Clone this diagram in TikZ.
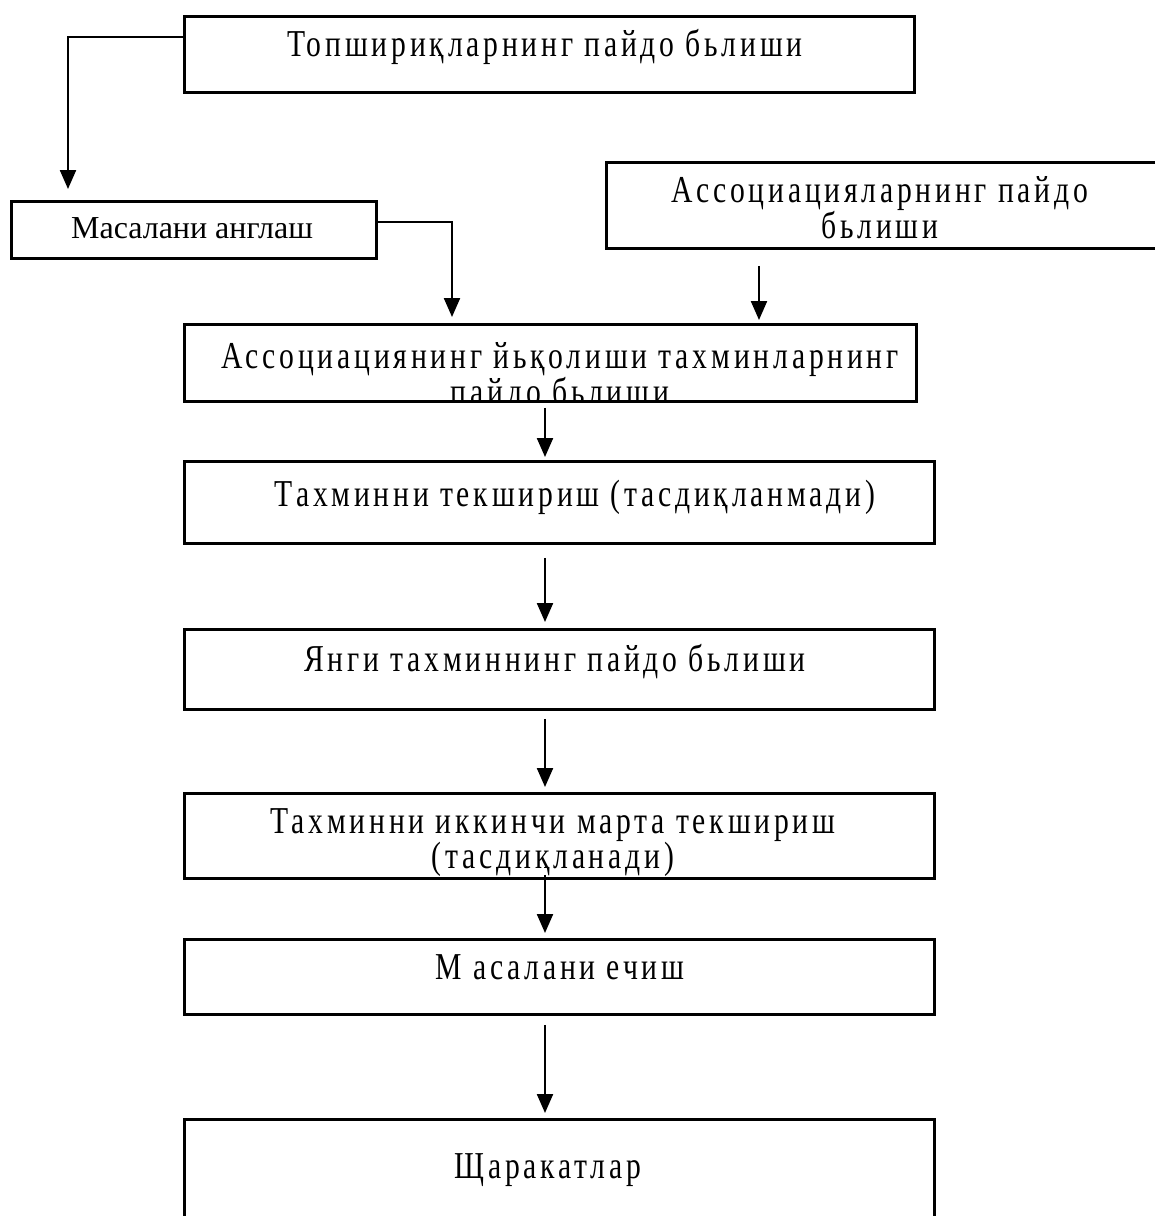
\documentclass[tikz,border=0pt]{standalone}
\usepackage{fontspec}
\setmainfont{Liberation Serif}
\newfontfamily\narrowfont[FakeStretch=0.78,LetterSpace=10]{Liberation Serif}
\usetikzlibrary{arrows.meta}
\begin{document}
\begin{tikzpicture}[x=1pt,y=-1pt,
  box/.style={draw,line width=2.8pt,rectangle,inner sep=0pt,anchor=north west},
  lbl/.style={font=\narrowfont\fontsize{38}{35}\selectfont,align=center,inner sep=0pt},
  arr/.style={line width=2.2pt,-{Triangle[length=19pt,width=16pt]}}]
\useasboundingbox (0,0) rectangle (1155,1216);
\clip (0,0) rectangle (1155,1216);
% boxes
\node[box,minimum width=730pt,minimum height=76pt] (b1) at (183,15) {};
\node[box,minimum width=365pt,minimum height=57pt] (b2) at (10,200) {};
\node[box,minimum width=575pt,minimum height=86pt] (b3) at (605,161) {};
\node[box,minimum width=732pt,minimum height=77pt] (b4) at (183,323) {};
\node[box,minimum width=750pt,minimum height=82pt] (b5) at (183,460) {};
\node[box,minimum width=750pt,minimum height=80pt] (b6) at (183,628) {};
\node[box,minimum width=750pt,minimum height=85pt] (b7) at (183,792) {};
\node[box,minimum width=750pt,minimum height=75pt] (b8) at (183,938) {};
\node[box,minimum width=750pt,minimum height=122pt] (b9) at (183,1118) {};
% labels
\node[lbl] (t1) at (545,47) {Топшириқларнинг пайдо бьлиши};
\node[font=\fontsize{32}{36}\selectfont,inner sep=0pt] (t2) at (192,228) {Масалани англаш};
\node[lbl] (t3) at (880,208) {Ассоциацияларнинг пайдо\\бьлиши};
\begin{scope}
\clip (184,324) rectangle (914,399);
\node[lbl] (t4) at (560,377) {Ассоциациянинг йьқолиши тахминларнинг\\пайдо бьлиши};
\end{scope}
\node[lbl] (t5) at (575,497) {Тахминни текшириш (тасдиқланмади)};
\node[lbl] (t6) at (555,662) {Янги тахминнинг пайдо бьлиши};
\node[lbl] (t7) at (553,843) {Тахминни иккинчи марта текшириш\\(тасдиқланади)};
\node[lbl] (t8) at (560,967) {М асалани ечиш};
\node[lbl] (t9) at (548,1170) {Щаракатлар};
% connectors
\coordinate (k1) at (68,37);
\coordinate (k2) at (452,222);
\coordinate (k3) at (759,0);
\coordinate (kx) at (545,0);
\draw[arr] (b1.west |- k1) -| ([yshift=11pt]b2.north -| k1);
\draw[arr] (b2.east |- k2) -| ([yshift=6pt]b4.north -| k2);
\draw[arr] ([yshift=-16pt]b3.south -| k3) -- ([yshift=3pt]b4.north -| k3);
\draw[arr] ([yshift=-5pt]b4.south -| kx) -- ([yshift=3pt]b5.north -| kx);
\draw[arr] ([yshift=-13pt]b5.south -| kx) -- ([yshift=6pt]b6.north -| kx);
\draw[arr] ([yshift=-8pt]b6.south -| kx) -- ([yshift=5pt]b7.north -| kx);
\draw[arr] ([yshift=5pt]b7.south -| kx) -- ([yshift=5pt]b8.north -| kx);
\draw[arr] ([yshift=-9pt]b8.south -| kx) -- ([yshift=5pt]b9.north -| kx);
\end{tikzpicture}
\end{document}
